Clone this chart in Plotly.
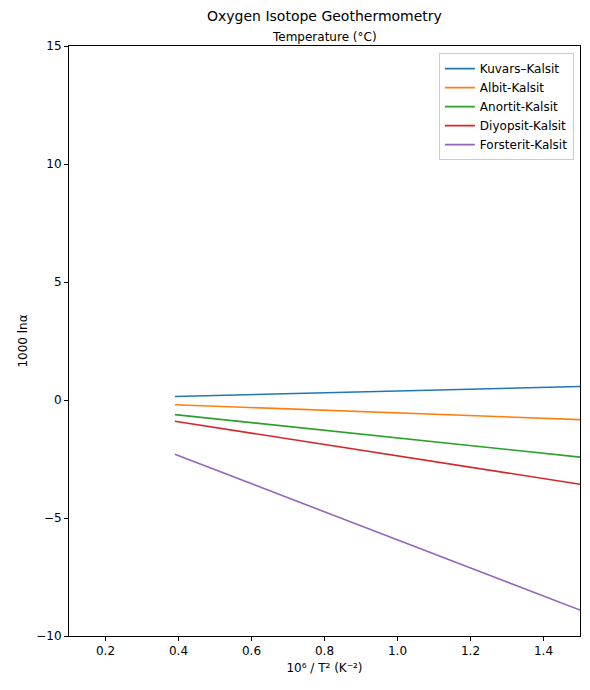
import plotly.graph_objects as go

names = ["Kuvars–Kalsit", "Albit-Kalsit", "Anortit-Kalsit", "Diyopsit-Kalsit", "Forsterit-Kalsit"]
x_vals = [0.39, 1.5]
y_start = [0.15, -0.2, -0.62, -0.9, -2.3]
y_end = [0.57, -0.83, -2.42, -3.57, -8.9]
colors = ["#1f77b4", "#ff7f0e", "#2ca02c", "#d62728", "#9467bd"]

fig = go.Figure()
for n, a, b, c in zip(names, y_start, y_end, colors):
    fig.add_trace(go.Scatter(x=x_vals, y=[a, b], mode="lines", name=n,
                             line=dict(color=c, width=1.6)))

axis = dict(showgrid=False, zeroline=False, showline=True, linecolor="black", mirror=True,
            ticks="outside", ticklen=4, tickcolor="black", tickfont=dict(size=12, color="black"))
fig.update_layout(
    width=582, height=682, plot_bgcolor="white", paper_bgcolor="white",
    margin=dict(l=61, r=10, t=38, b=54),
    font=dict(family="DejaVu Sans", color="black"),
    xaxis=dict(range=[0.1, 1.5], tickvals=[0.2, 0.4, 0.6, 0.8, 1.0, 1.2, 1.4],
               ticktext=["0.2", "0.4", "0.6", "0.8", "1.0", "1.2", "1.4"],
               title=dict(text="10⁶ / T² (K⁻²)", font=dict(size=12), standoff=6), **axis),
    yaxis=dict(range=[-10, 15], tickvals=[-10, -5, 0, 5, 10, 15],
               ticktext=["−10", "−5", "0", "5", "10", "15"],
               title=dict(text="1000 lnα", font=dict(size=12), standoff=6), **axis),
    legend=dict(x=0.988, y=0.988, xanchor="right", yanchor="top", bordercolor="#cccccc",
                borderwidth=1, bgcolor="white", font=dict(size=12)),
    showlegend=True,
    annotations=[
        dict(text="Oxygen Isotope Geothermometry", x=0.5, y=1, xref="paper", yref="paper",
             yshift=20, showarrow=False, font=dict(size=14), yanchor="bottom"),
        dict(text="Temperature (°C)", x=0.5, y=1, xref="paper", yref="paper",
             yshift=0, showarrow=False, font=dict(size=12), yanchor="bottom"),
    ],
)
fig.write_html("out.html")
